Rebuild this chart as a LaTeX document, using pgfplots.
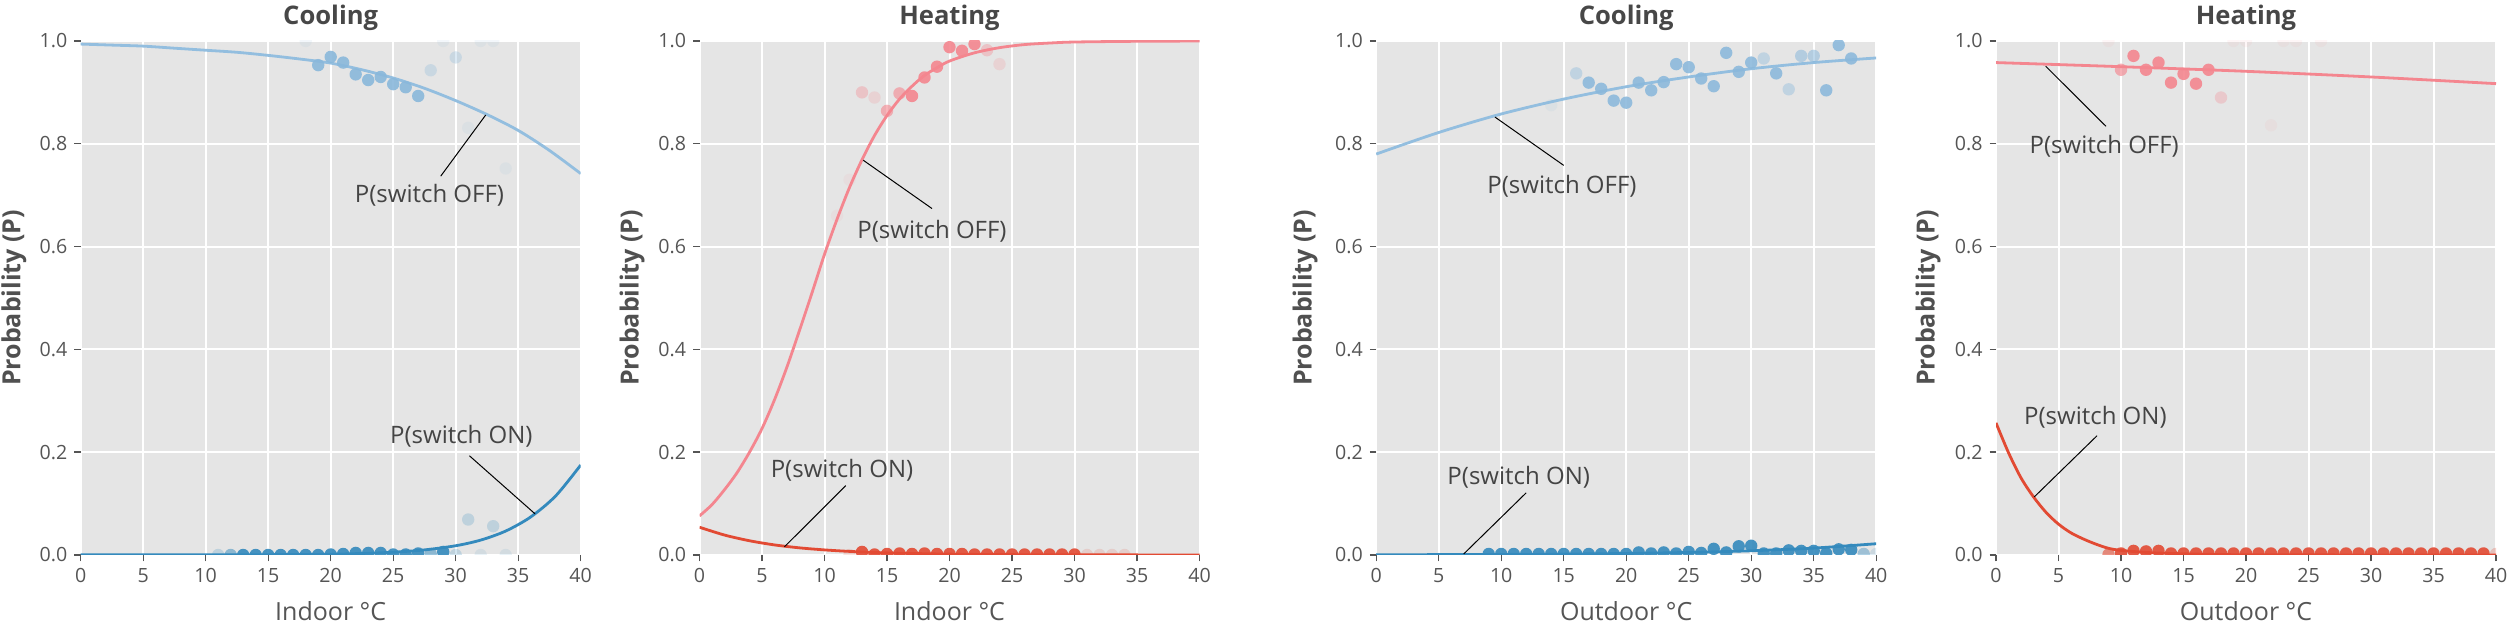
\documentclass[border=0pt]{standalone}
\usepackage{pgfplots}
\pgfplotsset{compat=1.18}
\usepackage{fontspec}
\setmainfont{Open Sans}
\definecolor{bggray}{HTML}{E5E5E5}
\definecolor{tickgray}{HTML}{555555}
\definecolor{titlegray}{HTML}{474747}
\definecolor{labelgray}{HTML}{505050}
\definecolor{annot}{HTML}{444444}
\definecolor{dblue}{HTML}{348ABD}
\definecolor{lblue}{HTML}{93BEDF}
\definecolor{mblue}{HTML}{8AB8DB}
\definecolor{dred}{HTML}{E24A33}
\definecolor{lred}{HTML}{F4868F}
\pgfplotsset{
  gg/.style={
    scale only axis, width=250pt, height=257pt,
    xmin=0, xmax=40, ymin=0, ymax=1,
    xtick={0,5,10,15,20,25,30,35,40},
    ytick={0,0.2,0.4,0.6,0.8,1},
    axis background/.style={fill=bggray},
    axis line style={draw=none},
    grid=major,
    major grid style={white, line width=1pt},
    tick align=outside,
    major tick length=3.2pt,
    tick style={tickgray, line width=0.7pt},
    tick pos=left,
    clip marker paths=true,
    /pgf/number format/assume math mode=true,
    ticklabel style={font=\fontsize{9.8}{11}\selectfont, text=tickgray},
    xlabel style={font=\fontsize{12.5}{14}\selectfont, text=tickgray, at={(axis description cs:0.5,0)}, anchor=base, yshift=-33pt},
    ylabel style={font=\bfseries\fontsize{12.5}{14}\selectfont, text=labelgray, anchor=center},
    title style={font=\bfseries\fontsize{12.8}{14}\selectfont, text=titlegray, at={(axis description cs:0.5,1)}, anchor=base, yshift=2pt},
    ylabel={Probability (P)},
    yticklabel style={/pgf/number format/.cd, fixed, fixed zerofill, precision=1},
  },
  dots/.style 2 args={only marks, mark=*, mark size=3.1pt, color=#1, draw opacity=0, fill opacity=#2},
  curve/.style={no marks, smooth, line width=1.4pt, #1},
}
\tikzset{
  ann/.style={font=\fontsize{12}{14}\selectfont, text=annot},
  annline/.style={black, line width=0.5pt},
}
\begin{document}
\begin{tikzpicture}
\path[use as bounding box] (0,0) rectangle (1255.5pt,312pt);

% ---------------- Panel 1: Cooling, indoor
\begin{axis}[gg, at={(40.35pt,34.5pt)}, anchor=south west,
  title={Cooling}, xlabel={Indoor °C},
  ylabel style={at={(axis description cs:-0.1334,0.5)}}]
\addplot[curve=lblue] coordinates {(0,.994)(2.5,.992)(5,.990)(7.5,.986)(10,.982)(12.5,.978)(15,.972)(17.5,.965)(20,.957)(22.5,.944)(25,.928)(27.5,.908)(30,.884)(32.5,.857)(35,.826)(37.5,.787)(40,.742)};
\addplot[curve=dblue] coordinates {(0,.0003)(10,.0003)(15,.0006)(20,.0016)(22.5,.003)(25,.0054)(27.5,.0099)(30,.018)(32,.029)(34,.0466)(36,.074)(38,.115)(40,.175)};
% OFF dots
\addplot[dots={mblue}{0.9}] coordinates {(19,.953)(20,.969)(21,.958)(22,.935)(23,.924)(24,.930)(25,.916)(26,.910)(27,.893)};
\addplot[dots={mblue}{0.3}] coordinates {(28,.943)(30,.968)};
\addplot[dots={mblue}{0.1}] coordinates {(18,1.0)(29,1.0)(31,.831)(32,1.0)(33,1.0)(34,.752)};
% ON dots
\addplot[dots={dblue}{0.9}] coordinates {(13,0)(14,0)(15,0)(16,0)(17,0)(18,0)(19,0)(20,.001)(21,.002)(22,.004)(23,.004)(24,.004)(25,.001)(26,.001)(27,.003)(29,.006)};
\addplot[dots={dblue}{0.5}] coordinates {(12,0)(28,.002)};
\addplot[dots={dblue}{0.22}] coordinates {(11,0)(30,0)(31,.069)(33,.056)};
\addplot[dots={dblue}{0.1}] coordinates {(32,0)(34,0)};
\draw[annline] (axis cs:28.8,0.737) -- (axis cs:32.4,0.856);
\node[ann] at (axis cs:27.9,0.70) {P(switch OFF)};
\draw[annline] (axis cs:31.1,0.193) -- (axis cs:36.35,0.080);
\node[ann] at (axis cs:30.45,0.230) {P(switch ON)};
\end{axis}

% ---------------- Panel 2: Heating, indoor
\begin{axis}[gg, at={(349.75pt,34.5pt)}, anchor=south west,
  title={Heating}, xlabel={Indoor °C},
  ylabel style={at={(axis description cs:-0.135,0.5)}}]
\addplot[curve=lred] coordinates {(0,.076)(1,.098)(2,.127)(3,.160)(4,.200)(5,.246)(6,.302)(7,.366)(8,.437)(9,.510)(10,.585)(11,.653)(12,.715)(13,.769)(14,.816)(15,.855)(16,.887)(17,.912)(18,.933)(19,.948)(20,.961)(22,.977)(24,.987)(26,.993)(28,.996)(30,.998)(35,.9994)(40,.9999)};
\addplot[curve=dred] coordinates {(0,.054)(2,.0388)(4,.0277)(6,.0196)(8,.0139)(10,.0099)(12,.0070)(15,.0041)(20,.0017)(25,.0007)(30,.0003)(40,.0001)};
% OFF dots
\addplot[dots={lred}{0.9}] coordinates {(17,.893)(18,.929)(19,.950)(20,.988)(21,.981)(22,.994)};
\addplot[dots={lred}{0.6}] coordinates {(15,.864)(16,.898)};
\addplot[dots={lred}{0.35}] coordinates {(23,.982)(13,.90)};
\addplot[dots={lred}{0.2}] coordinates {(14,.89)(24,.955)};
\addplot[dots={lred}{0.08}] coordinates {(12,.73)(11,.66)};
% ON dots
\addplot[dots={dred}{0.9}] coordinates {(13,.006)(14,.001)(15,.002)(16,.003)(17,.002)(18,.003)(19,.002)(20,.002)(21,.002)(22,.001)(23,.001)(24,.001)(25,.001)(26,.001)(27,.001)(28,.001)(29,.001)(30,.001)};
\addplot[dots={dred}{0.15}] coordinates {(12,0)(31,0)(32,0)(33,0)(34,0)};
\draw[annline] (axis cs:18.6,0.674) -- (axis cs:13.1,0.768);
\node[ann] at (axis cs:18.6,0.629) {P(switch OFF)};
\draw[annline] (axis cs:11.7,0.135) -- (axis cs:6.8,0.016);
\node[ann] at (axis cs:11.4,0.164) {P(switch ON)};
\end{axis}

% ---------------- Panel 3: Cooling, outdoor
\begin{axis}[gg, at={(688.1pt,34.5pt)}, anchor=south west,
  title={Cooling}, xlabel={Outdoor °C},
  ylabel style={at={(axis description cs:-0.142,0.5)}}]
\addplot[curve=lblue] coordinates {(0,.780)(5,.822)(10,.858)(15,.887)(20,.911)(25,.930)(30,.946)(35,.958)(40,.967)};
\addplot[curve=dblue] coordinates {(0,.0004)(10,.0011)(15,.0018)(20,.003)(25,.005)(30,.0082)(35,.0134)(40,.0219)};
% OFF dots
\addplot[dots={mblue}{0.88}] coordinates {(17,.919)(18,.907)(19,.884)(20,.880)(21,.919)(22,.904)(23,.920)(24,.955)(25,.949)(26,.927)(27,.912)(28,.977)(29,.940)(30,.958)(32,.937)(36,.904)(37,.992)(38,.966)};
\addplot[dots={mblue}{0.55}] coordinates {(34,.971)(35,.971)};
\addplot[dots={mblue}{0.4}] coordinates {(16,.937)(31,.966)(33,.906)};
\addplot[dots={mblue}{0.1}] coordinates {(14,.875)};
% ON dots
\addplot[dots={dblue}{0.9}] coordinates {(9,.002)(10,.002)(11,.002)(12,.002)(13,.002)(14,.002)(15,.002)(16,.002)(17,.002)(18,.002)(19,.002)(20,.002)(21,.005)(22,.003)(23,.005)(24,.003)(25,.006)(26,.004)(27,.012)(28,.005)(29,.017)(30,.018)(31,.003)(32,.003)(33,.009)(34,.008)(35,.008)(36,.003)(37,.011)(38,.010)};
\addplot[dots={dblue}{0.4}] coordinates {(39,.002)};
\addplot[dots={dblue}{0.15}] coordinates {(40,.002)};
\draw[annline] (axis cs:15.0,0.758) -- (axis cs:9.5,0.852);
\node[ann] at (axis cs:14.86,0.718) {P(switch OFF)};
\draw[annline] (axis cs:12.0,0.121) -- (axis cs:7.0,0.002);
\node[ann] at (axis cs:11.4,0.151) {P(switch ON)};
\end{axis}

% ---------------- Panel 4: Heating, outdoor
\begin{axis}[gg, at={(998pt,34.5pt)}, anchor=south west,
  title={Heating}, xlabel={Outdoor °C},
  ylabel style={at={(axis description cs:-0.136,0.5)}}]
\addplot[curve=lred] coordinates {(0,.958)(10,.950)(20,.941)(30,.930)(40,.917)};
\addplot[curve=dred] coordinates {(0,.257)(1,.199)(2,.150)(3,.113)(4,.083)(5,.060)(6,.043)(7,.031)(8,.021)(9,.013)(10,.009)(12,.005)(14,.003)(17,.0013)(20,.0005)(30,.0001)(40,0)};
% OFF dots
\addplot[dots={lred}{0.9}] coordinates {(11,.971)(12,.944)(13,.958)(14,.919)(15,.936)(16,.917)(17,.944)};
\addplot[dots={lred}{0.65}] coordinates {(10,.944)};
\addplot[dots={lred}{0.3}] coordinates {(18,.890)};
\addplot[dots={lred}{0.07}] coordinates {(22,.836)(9,1.0)(19,1.0)(20,1.0)(23,1.0)(24,1.0)(26,1.0)};
% ON dots
\addplot[dots={dred}{0.9}] coordinates {(10,.003)(11,.008)(12,.007)(13,.008)(14,.003)(15,.003)(16,.003)(17,.003)(18,.003)(19,.003)(20,.003)(21,.003)(22,.003)(23,.003)(24,.003)(25,.003)(26,.003)(27,.003)(28,.003)(29,.003)(30,.003)(31,.003)(32,.003)(33,.003)(34,.003)(35,.003)(36,.003)(37,.003)(38,.003)(39,.003)};
\addplot[dots={dred}{0.6}] coordinates {(9,.001)};
\addplot[dots={dred}{0.25}] coordinates {(40,.002)};
\draw[annline] (axis cs:8.8,0.834) -- (axis cs:3.97,0.951);
\node[ann] at (axis cs:8.66,0.795) {P(switch OFF)};
\draw[annline] (axis cs:8.08,0.232) -- (axis cs:3.06,0.113);
\node[ann] at (axis cs:7.95,0.268) {P(switch ON)};
\end{axis}
\end{tikzpicture}
\end{document}
